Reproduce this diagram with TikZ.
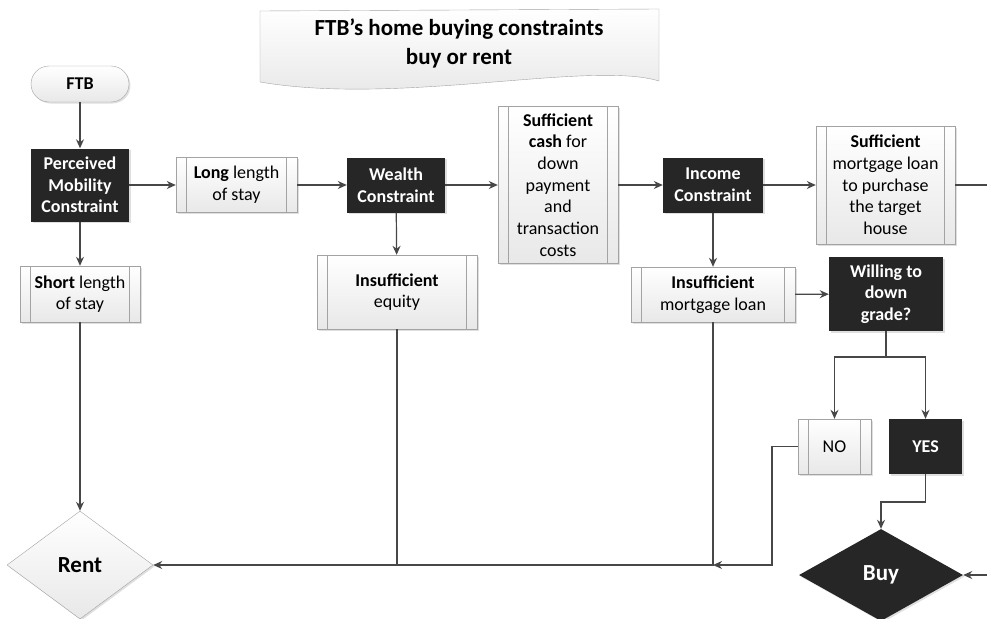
\documentclass[tikz,border=0pt]{standalone}
\usepackage{fontspec}
\setmainfont{Carlito}
\usepackage{xcolor}
\usepackage{tikz}
\usetikzlibrary{positioning, arrows.meta, shapes.geometric, shadows}

\definecolor{darkfill}{HTML}{262626}
\definecolor{boxgray}{HTML}{A3A3A3}
\definecolor{linegray}{HTML}{474747}

\begin{document}
\begin{tikzpicture}[x=1pt, y=-1pt, >={Stealth[length=9pt,width=8pt]},
  every node/.style={inner sep=0pt, align=center, font=\fontsize{18}{21.7}\selectfont},
  lightbox/.style={draw=boxgray, top color=white, bottom color=black!9,
    drop shadow={shadow xshift=1.5pt, shadow yshift=-1.5pt, opacity=0.25}},
  procbox/.style={rectangle, lightbox, path picture={
    \draw[boxgray] ([xshift=10.5pt]path picture bounding box.north west) -- ([xshift=10.5pt]path picture bounding box.south west)
      ([xshift=-10.5pt]path picture bounding box.north east) -- ([xshift=-10.5pt]path picture bounding box.south east);}},
  darkbox/.style={fill=darkfill, text=white, font=\fontsize{18}{21.7}\selectfont\bfseries,
    drop shadow={shadow xshift=1.5pt, shadow yshift=-1.5pt, opacity=0.25}},
  link/.style={->, line width=1.2pt, draw=linegray}]
  \useasboundingbox (0,0) rectangle (987,618);

  % title banner
  \draw[boxgray, top color=white, bottom color=black!10] (260,11) -- (659,9) -- (659,81)
    .. controls (590,60) and (400,106) .. (260,82) -- cycle;
  \node[font=\fontsize{23}{29}\selectfont\bfseries] (title) at (459,43) {FTB’s home buying constraints\\buy or rent};

  % top row
  \node[rectangle, lightbox, rounded corners=18pt, minimum width=98pt, minimum height=36pt, font=\fontsize{18}{21.7}\selectfont\bfseries] (ftb) at (80,84) {FTB};
  \node[rectangle, darkbox, minimum width=98pt, minimum height=73pt] (pmc) at (80,185) {Perceived\\Mobility\\Constraint};
  \node[procbox, minimum width=121pt, minimum height=55pt] (long) at (236.5,185) {\textbf{Long} length\\of stay};
  \node[rectangle, darkbox, minimum width=98pt, minimum height=55pt] (wealth) at (396,185) {Wealth\\Constraint};
  \node[procbox, minimum width=120pt, minimum height=157pt] (cash) at (558,185) {\textbf{Sufficient}\\\textbf{cash} for\\down\\payment\\and\\transaction\\costs};
  \node[rectangle, darkbox, minimum width=100pt, minimum height=55pt] (income) at (713,185) {Income\\Constraint};
  \node[procbox, minimum width=139pt, minimum height=118pt] (mortgage) at (885.5,185) {\textbf{Sufficient}\\mortgage loan\\to purchase\\the target\\house};

  % second row
  \node[procbox, minimum width=120pt, minimum height=56pt] (short) at (80,294) {\textbf{Short} length\\of stay};
  \node[procbox, minimum width=160pt, minimum height=74pt] (equity) at (397,292) {\textbf{Insufficient}\\equity};
  \node[procbox, minimum width=164pt, minimum height=55pt] (lowloan) at (713,294.5) {\textbf{Insufficient}\\mortgage loan};
  \node[rectangle, darkbox, minimum width=114pt, minimum height=74pt] (willing) at (886,294) {Willing to\\down\\grade?};

  % answers
  \node[procbox, minimum width=73pt, minimum height=55pt] (no) at (834.5,446.5) {NO};
  \node[rectangle, darkbox, minimum width=73pt, minimum height=55pt] (yes) at (925.5,446.5) {YES};

  % outcomes
  \node[diamond, lightbox, minimum width=146pt, minimum height=108pt, font=\fontsize{23}{27}\selectfont\bfseries] (rent) at (80,565) {Rent};
  \node[diamond, darkbox, minimum width=164pt, minimum height=92pt, font=\fontsize{23}{27}\selectfont\bfseries] (buy) at (881,575) {Buy};

  \coordinate (split) at (886,357);
  \coordinate (ybend) at (881,502);
  \coordinate (nobend) at (772,565);
  \coordinate (offpage) at (1010,575);

  \draw[link] (ftb) -- (pmc);
  \draw[link] (pmc) -- (long);
  \draw[link] (pmc) -- (short);
  \draw[link] (long) -- (wealth);
  \draw[link] (wealth) -- (cash);
  \draw[link] (wealth) -- (equity);
  \draw[link] (cash) -- (income);
  \draw[link] (income) -- (mortgage);
  \draw[link] (income) -- (lowloan);
  \draw[link] (lowloan) -- (willing);
  \draw[link,-] (willing) -- (split);
  \draw[link] (split) -| (no);
  \draw[link] (split) -| (yes);
  \draw[link] (yes) |- (ybend) -- (buy);
  \draw[link] (mortgage) -| (offpage) -- (buy);
  \draw[link] (no) -| (nobend) -- (lowloan |- nobend);
  \draw[link] (lowloan) |- (rent);
  \draw[link,-] (equity) -- (equity |- rent);
  \draw[link] (short) -- (rent);
\end{tikzpicture}
\end{document}
